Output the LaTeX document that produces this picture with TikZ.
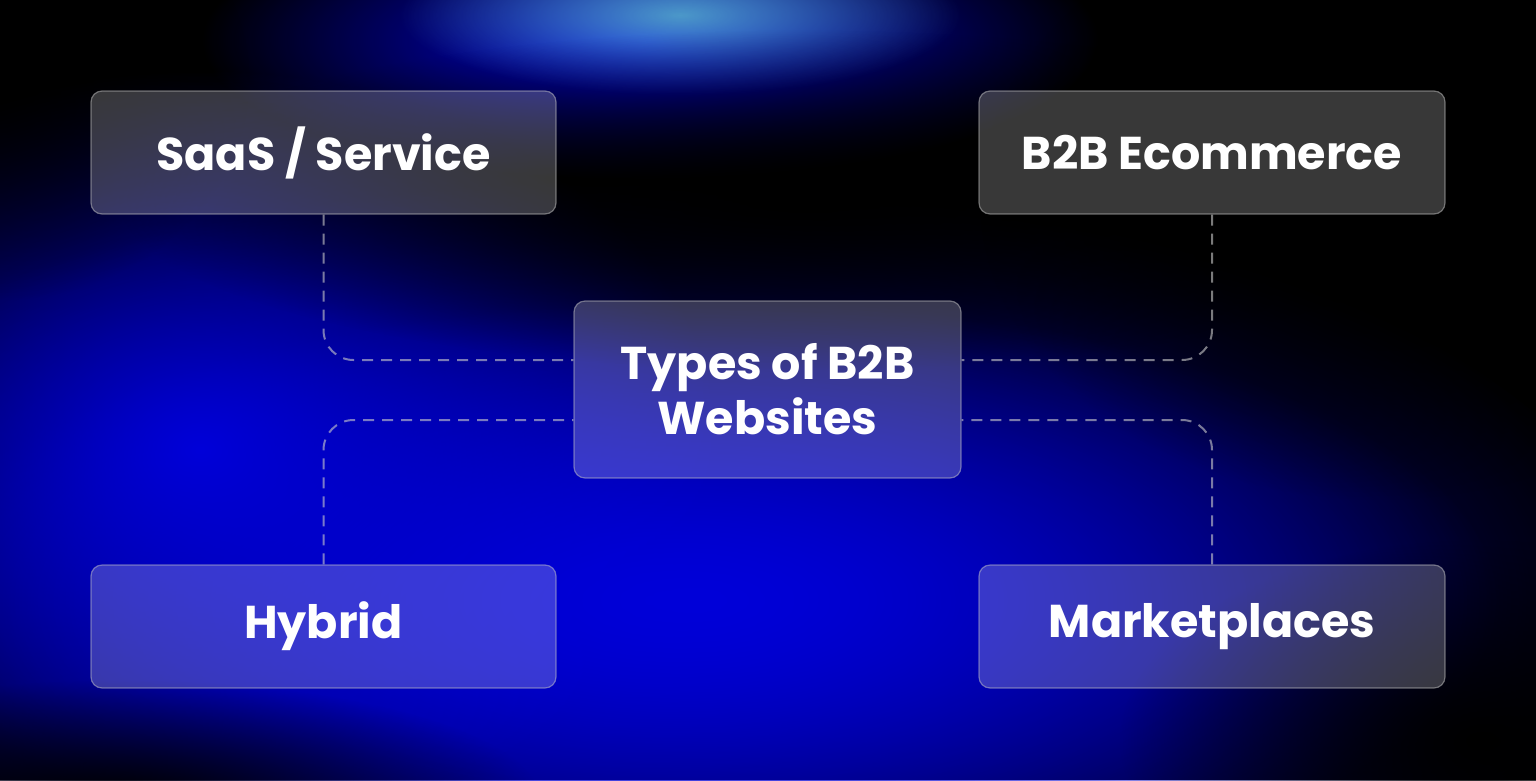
\documentclass[tikz,border=0pt]{standalone}
\usepackage{fontspec}
\setmainfont{Poppins}
\usetikzlibrary{fadings}
\tikzfading[name=soft, inner color=transparent!0, outer color=transparent!100]
\begin{document}
\begin{tikzpicture}[x=1pt,y=-1pt,
  box/.style={draw=white!55!gray, draw opacity=0.5, line width=1.2pt, rounded corners=11pt, fill=white, fill opacity=0.22, text opacity=1, font=\fontsize{46}{55}\selectfont\bfseries, text=white, align=center},
  link/.style={draw=white!60!gray, draw opacity=0.6, dashed, dash pattern=on 11pt off 8pt, line width=2pt, rounded corners=30pt}]
\fill[black] (0,0) rectangle (1536,780);
\useasboundingbox (0,0) rectangle (1536,780);
\fill[blue!80!black, path fading=soft] (650,600) ellipse (1000 and 420);
\fill[blue!85!black, path fading=soft] (700,600) ellipse (800 and 300);
\fill[blue!85!black, path fading=soft] (200,450) ellipse (520 and 380);
\fill[blue!90!black, path fading=soft] (650,40) ellipse (450 and 140);
\fill[cyan!60!gray, path fading=soft, opacity=0.9] (680,15) ellipse (280 and 80);
\fill[black, path fading=soft] (800,200) ellipse (680 and 170);
\fill[black, path fading=soft] (1380,200) ellipse (400 and 300);
\fill[black, path fading=soft] (1480,740) ellipse (360 and 200);
\fill[black, path fading=soft] (120,800) ellipse (420 and 120);
\fill[black, path fading=soft, opacity=0.8] (0,80) ellipse (250 and 220);
\node[box, minimum width=465pt, minimum height=123pt] (saas) at (323.5,152.5) {SaaS / Service};
\node[box, minimum width=466pt, minimum height=123pt] (ecom) at (1212,152.5) {B2B Ecommerce};
\node[box, minimum width=387pt, minimum height=177pt] (ctr) at (767.5,389.5) {Types of B2B\\Websites};
\node[box, minimum width=465pt, minimum height=123pt] (hyb) at (323.5,626.5) {Hybrid};
\node[box, minimum width=466pt, minimum height=123pt] (mkt) at (1212,626.5) {Marketplaces};
\draw[link] (saas.south) |- (ctr.west |- 0,360);
\draw[link] (ecom.south) |- (ctr.east |- 0,360);
\draw[link] (hyb.north) |- (ctr.west |- 0,420);
\draw[link] (mkt.north) |- (ctr.east |- 0,420);
\end{tikzpicture}
\end{document}
